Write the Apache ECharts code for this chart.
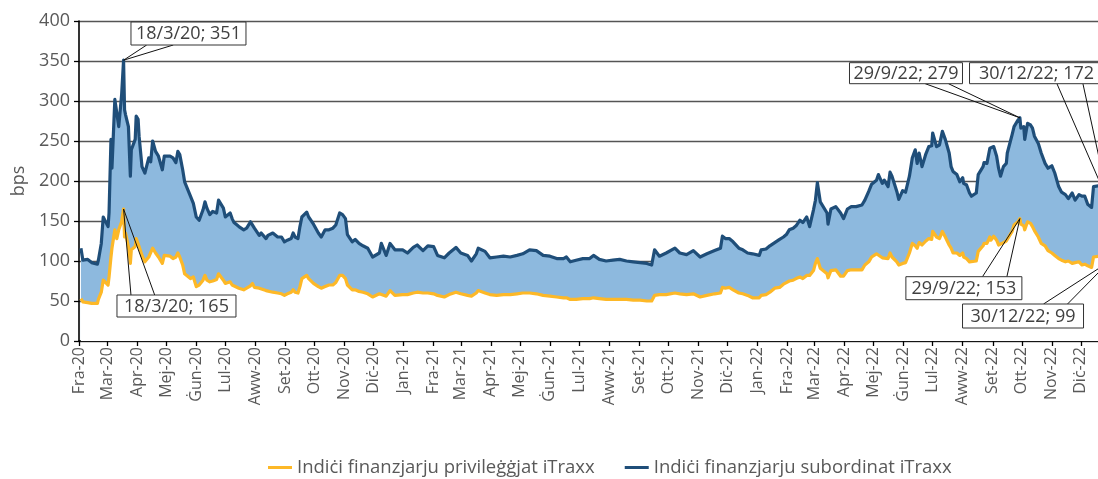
<!DOCTYPE html>
<html><head><meta charset="utf-8">
<script src="https://cdn.jsdelivr.net/npm/echarts@6/dist/echarts.min.js"></script>
<style>html,body{margin:0;padding:0;background:#fff}#c{width:1098px;height:479px}</style>
</head><body><div id="c"></div>
<script>
const dates = [
'2020-02-03','2020-02-05','2020-02-10','2020-02-14','2020-02-20','2020-02-21','2020-02-24','2020-02-26','2020-02-28','2020-03-02',
'2020-03-03','2020-03-05','2020-03-06','2020-03-09','2020-03-11','2020-03-13','2020-03-16','2020-03-18','2020-03-19','2020-03-20',
'2020-03-23','2020-03-25','2020-03-26','2020-03-30','2020-03-31','2020-04-02','2020-04-03','2020-04-06','2020-04-09','2020-04-13',
'2020-04-15','2020-04-17','2020-04-20','2020-04-23','2020-04-27','2020-04-29','2020-05-01','2020-05-05','2020-05-08','2020-05-11',
'2020-05-13','2020-05-15','2020-05-18','2020-05-20','2020-05-22','2020-05-26','2020-05-29','2020-06-01','2020-06-04','2020-06-08',
'2020-06-10','2020-06-12','2020-06-15','2020-06-18','2020-06-22','2020-06-24','2020-06-26','2020-06-29','2020-07-01','2020-07-06',
'2020-07-08','2020-07-10','2020-07-15','2020-07-20','2020-07-23','2020-07-27','2020-07-29','2020-07-31','2020-08-05','2020-08-07',
'2020-08-12','2020-08-14','2020-08-19','2020-08-24','2020-08-28','2020-08-31','2020-09-03','2020-09-07','2020-09-09','2020-09-11',
'2020-09-14','2020-09-16','2020-09-18','2020-09-23','2020-09-25','2020-09-30','2020-10-05','2020-10-08','2020-10-12','2020-10-16',
'2020-10-20','2020-10-23','2020-10-27','2020-10-30','2020-11-02','2020-11-04','2020-11-09','2020-11-12','2020-11-16','2020-11-20',
'2020-11-25','2020-11-30','2020-12-07','2020-12-09','2020-12-14','2020-12-18','2020-12-23','2020-12-31','2021-01-05','2021-01-11',
'2021-01-15','2021-01-21','2021-01-26','2021-02-01','2021-02-05','2021-02-12','2021-02-17','2021-02-24','2021-03-01','2021-03-08',
'2021-03-12','2021-03-17','2021-03-19','2021-03-26','2021-03-31','2021-04-07','2021-04-14','2021-04-21','2021-04-28','2021-05-04',
'2021-05-11','2021-05-18','2021-05-25','2021-06-01','2021-06-08','2021-06-15','2021-06-18','2021-06-22','2021-06-28','2021-07-05',
'2021-07-12','2021-07-16','2021-07-22','2021-07-29','2021-08-05','2021-08-12','2021-08-19','2021-08-26','2021-09-02','2021-09-09',
'2021-09-14','2021-09-16','2021-09-17','2021-09-22','2021-09-29','2021-10-08','2021-10-13','2021-10-20','2021-10-27','2021-11-03',
'2021-11-10','2021-11-18','2021-11-24','2021-11-26','2021-11-29','2021-12-03','2021-12-07','2021-12-13','2021-12-17','2021-12-22',
'2021-12-27','2022-01-03','2022-01-05','2022-01-10','2022-01-14','2022-01-19','2022-01-24','2022-01-28','2022-01-31','2022-02-03',
'2022-02-07','2022-02-10','2022-02-14','2022-02-17','2022-02-21','2022-02-24','2022-02-28','2022-03-02','2022-03-04','2022-03-07',
'2022-03-09','2022-03-14','2022-03-15','2022-03-18','2022-03-23','2022-03-28','2022-03-31','2022-04-04','2022-04-08','2022-04-13',
'2022-04-19','2022-04-22','2022-04-26','2022-04-29','2022-05-04','2022-05-06','2022-05-10','2022-05-12','2022-05-16','2022-05-18',
'2022-05-20','2022-05-25','2022-05-27','2022-05-31','2022-06-03','2022-06-07','2022-06-10','2022-06-13','2022-06-15','2022-06-17',
'2022-06-20','2022-06-24','2022-06-27','2022-06-30','2022-07-01','2022-07-05','2022-07-08','2022-07-11','2022-07-14','2022-07-18',
'2022-07-20','2022-07-22','2022-07-26','2022-07-29','2022-08-01','2022-08-02','2022-08-05','2022-08-08','2022-08-10','2022-08-15',
'2022-08-17','2022-08-22','2022-08-23','2022-08-26','2022-08-29','2022-08-30','2022-09-02','2022-09-05','2022-09-07','2022-09-09',
'2022-09-12','2022-09-15','2022-09-16','2022-09-21','2022-09-23','2022-09-27','2022-09-29','2022-09-30','2022-10-03','2022-10-04',
'2022-10-06','2022-10-07','2022-10-10','2022-10-12','2022-10-14','2022-10-18','2022-10-21','2022-10-25','2022-10-28','2022-11-01',
'2022-11-04','2022-11-08','2022-11-11','2022-11-15','2022-11-18','2022-11-22','2022-11-25','2022-11-29','2022-12-02','2022-12-05',
'2022-12-08','2022-12-12','2022-12-14','2022-12-16','2022-12-20','2022-12-23','2022-12-28','2022-12-30'
];
const subordinated = [
116,101,102,98,96,101,122,155,155,143,
160,252,216,302,304,268,308,351,289,283,
268,206,239,252,281,277,256,218,210,229,
224,250,237,231,214,231,233,231,229,223,
237,233,214,199,199,181,172,155,151,164,
174,166,158,162,160,176,178,166,155,160,
153,148,143,139,141,149,151,141,132,135,
128,132,135,130,130,124,126,128,135,130,
128,143,155,161,155,146,135,130,139,139,
141,145,160,158,153,133,124,127,122,119,
116,105,110,122,107,122,114,114,110,117,
120,113,119,118,107,104,110,117,110,107,
100,109,116,112,104,105,106,105,107,109,
114,113,107,106,103,103,105,99,101,103,
103,107,102,100,101,102,100,99,98,97,
95,94,114,106,110,116,110,108,113,105,
109,113,116,131,128,128,124,116,114,110,
109,107,114,115,119,123,127,130,133,139,
141,144,151,148,155,143,164,176,198,174,
172,160,146,165,168,160,153,165,168,168,
170,176,187,196,201,208,197,201,193,211,
206,187,177,188,186,206,229,239,222,235,
218,234,243,244,260,243,245,262,252,235,
218,212,208,199,204,197,195,185,181,185,
208,218,223,222,241,239,243,231,216,206,
218,222,235,258,268,276,279,266,268,252,
266,272,270,266,256,247,235,222,216,219,
210,193,186,183,178,185,176,183,181,181,
171,167,193,195,194,190,182,172
];
const senior = [
53,49,48,47,47,52,61,76,74,70,
80,105,116,139,128,139,149,165,130,135,
118,97,114,118,128,126,118,107,99,105,
103,116,110,105,97,107,105,106,103,105,
110,105,95,84,84,78,80,68,70,76,
82,76,74,75,77,84,84,76,72,74,
70,68,66,64,66,69,72,67,66,64,
63,63,61,60,59,57,59,61,64,61,
60,68,78,82,78,72,68,66,68,70,
70,73,82,82,78,70,64,64,62,61,
59,55,59,61,56,63,57,58,58,60,
61,60,60,59,57,55,58,61,59,57,
56,60,63,60,58,57,58,58,59,60,
60,59,57,56,55,54,54,52,52,53,
53,54,53,52,52,52,52,51,51,50,
50,49,57,58,58,60,59,58,59,55,
57,59,60,67,66,67,64,60,59,57,
54,54,57,58,61,66,67,71,73,75,
76,78,80,78,82,82,88,97,103,91,
92,84,79,88,89,81,81,88,89,89,
89,95,99,105,109,107,104,105,103,110,
105,99,95,97,98,110,122,119,116,123,
120,125,128,127,137,130,128,137,130,120,
116,110,110,107,110,105,103,99,97,100,
112,119,122,122,130,126,131,126,120,118,
123,125,126,137,145,149,153,146,144,139,
146,149,147,143,138,130,122,119,113,110,
107,103,101,99,100,97,98,99,95,96,
94,92,105,107,106,104,102,99
];
const monthNames = ['Jan','Fra','Mar','Apr','Mej','Ġun','Lul','Aww','Set','Ott','Nov','Diċ'];
const yTickValues = [0,50,100,150,200,250,300,350,400];
const seniorName = 'Indiċi finanzjarju privileġġjat iTraxx';
const subName = 'Indiċi finanzjarju subordinat iTraxx';
// callouts: which data point, box offset from point [dx,dy,w,h], which box edge the leaders leave, leader x offsets in box
const callouts = [
  {date:'2020-03-18', series:'sub', box:[7.4,-38.2,115,23], edge:'bottom', legs:[15.7,42.3]},
  {date:'2020-03-18', series:'sen', box:[-6.6,86,119,22], edge:'top', legs:[14,37.7]},
  {date:'2022-09-29', series:'sub', box:[-170.4,-55.1,113,21], edge:'bottom', legs:[75.7,99]},
  {date:'2022-12-30', series:'sub', box:[-139.5,-140.7,134,21], edge:'bottom', legs:[87.4,113.4]},
  {date:'2022-09-29', series:'sen', box:[-114,58.1,116,23], edge:'top', legs:[76.6,101]},
  {date:'2022-12-30', series:'sen', box:[-146.5,42.2,121,24], edge:'top', legs:[81,105]}
];

const C_SEN = '#FDB827', C_SUB = '#1F4E79', C_FILL = '#8DB9DE', TXT = '#595959';
const FONT = '"Open Sans", "Noto Sans", sans-serif';
const subData = dates.map((d,i)=>[d, subordinated[i]]);
const senData = dates.map((d,i)=>[d, senior[i]]);
const DAY = 86400000;

const chart = echarts.init(document.getElementById('c'), null, {renderer:'canvas'});
chart.setOption({
  animation:false,
  backgroundColor:'#fff',
  textStyle:{fontFamily:FONT},
  grid:{left:79, top:21, width:1031, height:320, containLabel:false, outerBoundsMode:'none'},
  legend:{
    left:263, top:453, itemWidth:24, itemHeight:3, itemGap:30, icon:'rect',
    textStyle:{fontSize:18.5, color:TXT, fontFamily:FONT},
    data:[{name:seniorName},{name:subName}],
    selectedMode:false
  },
  xAxis:{
    type:'time', min:'2020-02-01', max:'2022-12-31',
    splitNumber:36, minInterval:28*DAY, maxInterval:31*DAY,
    axisLine:{show:true, lineStyle:{color:'#000', width:1.6}},
    axisTick:{show:true, length:5, lineStyle:{color:'#000', width:1.3}},
    axisLabel:{
      rotate:90, fontSize:16, color:TXT, margin:6, fontFamily:FONT, hideOverlap:false,
      formatter:function(v){ const d=new Date(v); return monthNames[d.getMonth()]+'-'+String(d.getFullYear()).slice(2); }
    },
    splitLine:{show:false}
  },
  yAxis:{
    type:'value', min:yTickValues[0], max:yTickValues[yTickValues.length-1], interval:50,
    name:'bps', nameLocation:'middle', nameRotate:90, nameGap:50,
    nameTextStyle:{fontSize:18, color:TXT, fontFamily:FONT},
    axisLine:{show:true, lineStyle:{color:'#000', width:1.6}},
    axisTick:{show:true, length:5, lineStyle:{color:'#000', width:1.3}},
    axisLabel:{fontSize:18, color:TXT, margin:9, fontFamily:FONT},
    splitLine:{show:true, lineStyle:{color:'#555', width:1.3}}
  },
  series:[
    {name:'fillTop', type:'line', data:subData, showSymbol:false, silent:true,
     lineStyle:{width:0}, areaStyle:{color:C_FILL, opacity:1}, z:2},
    {name:'fillBase', type:'line', data:senData, showSymbol:false, silent:true,
     lineStyle:{width:0}, areaStyle:{color:'#fff', opacity:1}, z:2},
    {name:seniorName, type:'line', data:senData, showSymbol:false, color:C_SEN,
     lineStyle:{width:3.2, color:C_SEN, join:'round'}, z:3},
    {name:subName, type:'line', data:subData, showSymbol:false, color:C_SUB,
     lineStyle:{width:3.2, color:C_SUB, join:'round'}, z:4}
  ]
});

function fmtDate(s){ const p=s.split('-'); return (+p[2])+'/'+(+p[1])+'/'+p[0].slice(2); }
const elems = [];
callouts.forEach(c=>{
  const i = dates.indexOf(c.date);
  const v = c.series==='sub' ? subordinated[i] : senior[i];
  const p = chart.convertToPixel({gridIndex:0}, [c.date, v]);
  const [dx,dy,w,h] = c.box;
  const L = p[0]+dx, T = p[1]+dy;
  const ay = c.edge==='bottom' ? T+h : T;
  c.legs.forEach(o=>{
    elems.push({type:'line', z:100, shape:{x1:L+o, y1:ay, x2:p[0], y2:p[1]}, style:{stroke:'#111', lineWidth:1}});
  });
  elems.push({type:'rect', z:101, shape:{x:L, y:T, width:w, height:h}, style:{fill:'#fff', stroke:'#333', lineWidth:1}});
  elems.push({type:'text', z:102, x:L+w/2, y:T+h/2+0.5, style:{text:fmtDate(c.date)+'; '+v, fill:'#404040', font:'18px '+FONT, align:'center', verticalAlign:'middle', textAlign:'center', textVerticalAlign:'middle'}});
});
chart.setOption({graphic:{elements:elems}});
</script></body></html>
